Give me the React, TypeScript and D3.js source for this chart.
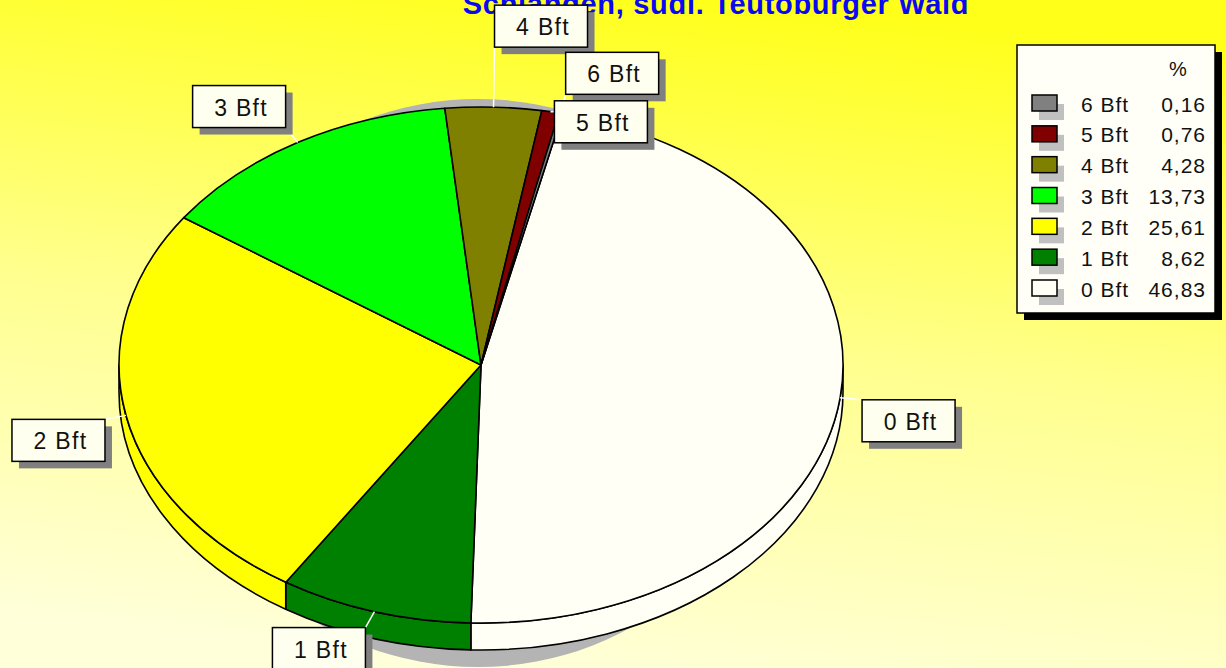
import React, { useRef, useEffect } from 'react';
import * as d3 from 'd3';

// chart data
const categories = ['0 Bft', '1 Bft', '2 Bft', '3 Bft', '4 Bft', '5 Bft', '6 Bft'];
const percents = [46.83, 8.62, 25.61, 13.73, 4.28, 0.76, 0.16];
const sliceColors = ['#FFFFF6', '#008000', '#FFFF00', '#00FF00', '#808000', '#800000', '#808080'];
const legendOrder = ['6 Bft', '5 Bft', '4 Bft', '3 Bft', '2 Bft', '1 Bft', '0 Bft'];
const titleText = 'Schlangen,  südl. Teutoburger Wald';
const legendHeader = '%';

// label box placement relative to the slice anchor on the rim
const labelOffsets: Record<string, [number, number]> = {
  '0 Bft': [22, 2],
  '1 Bft': [-102, 16],
  '2 Bft': [-114, 4],
  '3 Bft': [-105, -57],
  '4 Bft': [1, -102],
  '5 Bft': [4, -11],
  '6 Bft': [5, -61],
};
const labelDrawOrder = ['0 Bft', '1 Bft', '2 Bft', '3 Bft', '4 Bft', '6 Bft', '5 Bft'];

const W = 1226;
const H = 668;

const App = () => {
  const svgRef = useRef<SVGSVGElement>(null);

  useEffect(() => {
    const svg = d3.select(svgRef.current);
    svg.selectAll('*').remove();

    const cx = 481, cy = 365, rx = 362, ry = 258, depth = 27;
    const font = "'Liberation Sans', Arial, sans-serif";

    // background
    const defs = svg.append('defs');
    const grad = defs.append('linearGradient').attr('id', 'bg')
      .attr('x1', 0.6).attr('y1', 0).attr('x2', 0.4).attr('y2', 1);
    grad.append('stop').attr('offset', 0).attr('stop-color', '#FFFF1A');
    grad.append('stop').attr('offset', 0.5).attr('stop-color', '#FFFF8E');
    grad.append('stop').attr('offset', 1).attr('stop-color', '#FFFFDA');
    svg.append('rect').attr('width', W).attr('height', H).attr('fill', 'url(#bg)');

    const data = categories.map((c, i) => ({ name: c, value: percents[i], color: sliceColors[i] }));
    const startA = (13 * Math.PI) / 180;
    const pie = d3.pie<any>().sort(null).value(d => d.value)
      .startAngle(startA).endAngle(startA + 2 * Math.PI);
    const arcs = pie(data);

    const pt = (a: number, dy = 0): [number, number] =>
      [cx + rx * Math.sin(a), cy - ry * Math.cos(a) + dy];

    // shadow
    svg.append('ellipse')
      .attr('cx', cx - 3).attr('cy', cy + 18)
      .attr('rx', 300).attr('ry', 284)
      .attr('fill', '#B4B4B4');

    // front walls
    const front0 = Math.PI / 2, front1 = (3 * Math.PI) / 2;
    const walls = svg.append('g');
    arcs.forEach(a => {
      const a0 = Math.max(a.startAngle, front0);
      const a1 = Math.min(a.endAngle, front1);
      if (a1 <= a0) return;
      const p0 = pt(a0), p1 = pt(a1), q1 = pt(a1, depth), q0 = pt(a0, depth);
      const d = `M${p0} A${rx},${ry} 0 0 1 ${p1} L${q1} A${rx},${ry} 0 0 0 ${q0} Z`;
      walls.append('path')
        .attr('d', d)
        .attr('fill', a.data.color)
        .attr('stroke', '#000')
        .attr('stroke-width', 1.6)
        .attr('stroke-linejoin', 'round');
    });

    // top faces
    const arcGen = d3.arc<any>().innerRadius(0).outerRadius(1);
    svg.append('g')
      .attr('transform', `translate(${cx},${cy}) scale(${rx},${ry})`)
      .selectAll('path')
      .data(arcs)
      .join('path')
      .attr('d', arcGen)
      .attr('fill', d => d.data.color)
      .attr('stroke', '#000')
      .attr('stroke-width', 1.6)
      .attr('vector-effect', 'non-scaling-stroke')
      .attr('stroke-linejoin', 'round');

    // title
    svg.append('text')
      .attr('x', 716).attr('y', 14)
      .attr('text-anchor', 'middle')
      .attr('font-family', font)
      .attr('font-weight', 'bold')
      .attr('font-size', 29)
      .attr('letter-spacing', 0.7)
      .attr('fill', '#0A0AF0')
      .text(titleText);

    // labels
    const bw = 93, bh = 42;
    const labels = svg.append('g');
    const byName: Record<string, any> = {};
    arcs.forEach(a => { byName[a.data.name] = a; });

    // leader lines first
    labelDrawOrder.forEach(name => {
      const a = byName[name];
      const mid = (a.startAngle + a.endAngle) / 2;
      const [ax, ay] = pt(mid);
      const [ox, oy] = labelOffsets[name];
      const bx = ax + ox, by = ay + oy;
      const ex = Math.max(bx, Math.min(bx + bw, ax));
      const ey = Math.max(by, Math.min(by + bh, ay));
      labels.append('line')
        .attr('x1', ax).attr('y1', ay).attr('x2', ex).attr('y2', ey)
        .attr('stroke', '#FFFFFF').attr('stroke-width', 1.5);
    });

    labelDrawOrder.forEach(name => {
      const a = byName[name];
      const mid = (a.startAngle + a.endAngle) / 2;
      const [ax, ay] = pt(mid);
      const [ox, oy] = labelOffsets[name];
      const bx = ax + ox, by = ay + oy;
      labels.append('rect')
        .attr('x', bx + 7).attr('y', by + 7).attr('width', bw).attr('height', bh)
        .attr('fill', '#808080');
      labels.append('rect')
        .attr('x', bx).attr('y', by).attr('width', bw).attr('height', bh)
        .attr('fill', '#FFFFF0').attr('stroke', '#000').attr('stroke-width', 1.5);
      labels.append('text')
        .attr('x', bx + bw / 2 + 2).attr('y', by + bh / 2 + 1)
        .attr('text-anchor', 'middle')
        .attr('dominant-baseline', 'central')
        .attr('font-family', font)
        .attr('font-size', 23)
        .attr('letter-spacing', 1.3)
        .attr('fill', '#111')
        .text(name);
    });

    // legend
    const lx = 1017, ly = 45, lw = 198, lh = 268;
    const legend = svg.append('g');
    legend.append('rect')
      .attr('x', lx + 7).attr('y', ly + 7).attr('width', lw).attr('height', lh)
      .attr('fill', '#000');
    legend.append('rect')
      .attr('x', lx).attr('y', ly).attr('width', lw).attr('height', lh)
      .attr('fill', '#FFFFF8').attr('stroke', '#000').attr('stroke-width', 1.5);
    legend.append('text')
      .attr('x', 1178).attr('y', 69)
      .attr('text-anchor', 'middle').attr('dominant-baseline', 'central')
      .attr('font-family', font).attr('font-size', 20).attr('fill', '#111')
      .text(legendHeader);

    const rowY = d3.scalePoint<string>().domain(legendOrder).range([103, 288]);
    const fmt = (v: number) => d3.format('.2f')(v).replace('.', ',');

    legendOrder.forEach(name => {
      const i = categories.indexOf(name);
      const y = rowY(name) as number;
      legend.append('rect')
        .attr('x', 1039).attr('y', y + 1).attr('width', 25).attr('height', 16)
        .attr('fill', '#C0C0C0');
      legend.append('rect')
        .attr('x', 1032).attr('y', y - 8).attr('width', 25).attr('height', 16)
        .attr('fill', sliceColors[i]).attr('stroke', '#000').attr('stroke-width', 1.5);
      legend.append('text')
        .attr('x', 1081).attr('y', y + 1)
        .attr('dominant-baseline', 'central')
        .attr('font-family', font).attr('font-size', 21).attr('letter-spacing', 1)
        .attr('fill', '#111')
        .text(name);
      legend.append('text')
        .attr('x', 1206).attr('y', y + 1)
        .attr('text-anchor', 'end')
        .attr('dominant-baseline', 'central')
        .attr('font-family', font).attr('font-size', 21).attr('letter-spacing', 1)
        .attr('fill', '#111')
        .text(fmt(percents[i]));
    });
  }, []);

  return (
    <svg ref={svgRef} width={W} height={H}
      style={{ position: 'absolute', left: 0, top: 0, display: 'block' }} />
  );
};

export default App;
